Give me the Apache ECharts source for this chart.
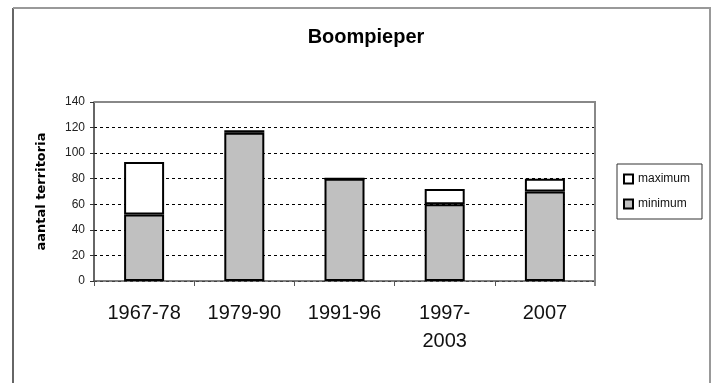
<!DOCTYPE html>
<html>
<head>
<meta charset="utf-8">
<script src="https://cdn.jsdelivr.net/npm/echarts@6/dist/echarts.min.js"></script>
<style>
  html, body { margin: 0; padding: 0; background: #fff; }
  #chart { width: 715px; height: 383px; }
</style>
</head>
<body>
<div id="chart"></div>
<script>
// Territory counts of the Boompieper per survey period
const categories = ['1967-78', '1979-90', '1991-96', '1997-2003', '2007'];
const minimum = [52, 116, 80, 60, 70];
const maximum = [93, 118, 80, 72, 80];
const yTicks = { min: 0, max: 140, step: 20 };

// The white part sits on top of the minimum and reaches up to the maximum
const extra = maximum.map((v, i) => v - minimum[i]);

const plot = { left: 94, right: 595, top: 102, bottom: 281 };

const chart = echarts.init(document.getElementById('chart'), null, { renderer: 'canvas' });

chart.setOption({
  animation: false,
  backgroundColor: '#ffffff',
  title: {
    text: 'Boompieper',
    left: 361,
    textAlign: 'center',
    top: 22,
    textStyle: { fontFamily: 'Liberation Sans, Arial, sans-serif', fontSize: 20, fontWeight: 'bold', color: '#000' }
  },
  grid: {
    left: plot.left,
    right: 715 - plot.right,
    top: plot.top,
    bottom: 383 - plot.bottom,
    containLabel: false
  },
  legend: {
    orient: 'vertical',
    left: 617,
    top: 164,
    data: ['maximum', 'minimum'],
    icon: 'rect',
    itemWidth: 9,
    itemHeight: 9,
    itemGap: 11,
    padding: [8, 12, 8, 6],
    borderColor: '#333',
    borderWidth: 1,
    textStyle: { fontFamily: 'Liberation Sans, Arial, sans-serif', fontSize: 12, color: '#111', lineHeight: 14 }
  },
  xAxis: {
    type: 'category',
    data: categories,
    axisLine: { show: true, lineStyle: { color: '#555', width: 1.5 } },
    axisTick: { show: true, interval: 0, length: 5, lineStyle: { color: '#555' } },
    axisLabel: {
      interval: 0,
      margin: 18,
      fontFamily: 'Liberation Sans, Arial, sans-serif',
      fontSize: 20,
      lineHeight: 28,
      color: '#111',
      formatter: v => (v.length > 7 ? v.replace('-', '-\n') : v)
    },
    splitLine: { show: false }
  },
  yAxis: {
    type: 'value',
    min: yTicks.min,
    max: yTicks.max,
    interval: yTicks.step,
    name: 'aantal territoria',
    nameLocation: 'middle',
    nameRotate: 90,
    nameGap: 46,
    nameTextStyle: { fontFamily: 'DejaVu Sans, sans-serif', fontSize: 13, fontWeight: 'bold', color: '#000' },
    axisLine: { show: true, lineStyle: { color: '#333', width: 1.5 } },
    axisTick: { show: true, length: 4, lineStyle: { color: '#333' } },
    axisLabel: { margin: 9, fontFamily: 'Liberation Sans, Arial, sans-serif', fontSize: 12, color: '#222' },
    splitLine: { show: true, lineStyle: { color: '#000', type: [3, 3], width: 1 } }
  },
  series: [
    {
      name: 'minimum',
      type: 'bar',
      stack: 'territoria',
      data: minimum,
      barWidth: 40,
      itemStyle: { color: '#c0c0c0', borderColor: '#000', borderWidth: 2 }
    },
    {
      name: 'maximum',
      type: 'bar',
      stack: 'territoria',
      data: extra,
      barWidth: 40,
      itemStyle: { color: '#ffffff', borderColor: '#000', borderWidth: 2 }
    }
  ],
  graphic: [
    // plot area frame (top and right edges)
    {
      type: 'polyline',
      z: 100,
      silent: true,
      shape: { points: [[plot.left, plot.top], [plot.right, plot.top], [plot.right, plot.bottom + 5]] },
      style: { stroke: '#888', lineWidth: 2, fill: null }
    },
    // outer chart frame
    {
      type: 'polyline',
      silent: true,
      shape: { points: [[13, 383], [13, 8]] },
      style: { stroke: '#333', lineWidth: 1.5, fill: null }
    },
    {
      type: 'polyline',
      silent: true,
      shape: { points: [[13, 8], [710, 8], [710, 383]] },
      style: { stroke: '#999', lineWidth: 2, fill: null }
    }
  ]
});
</script>
</body>
</html>
